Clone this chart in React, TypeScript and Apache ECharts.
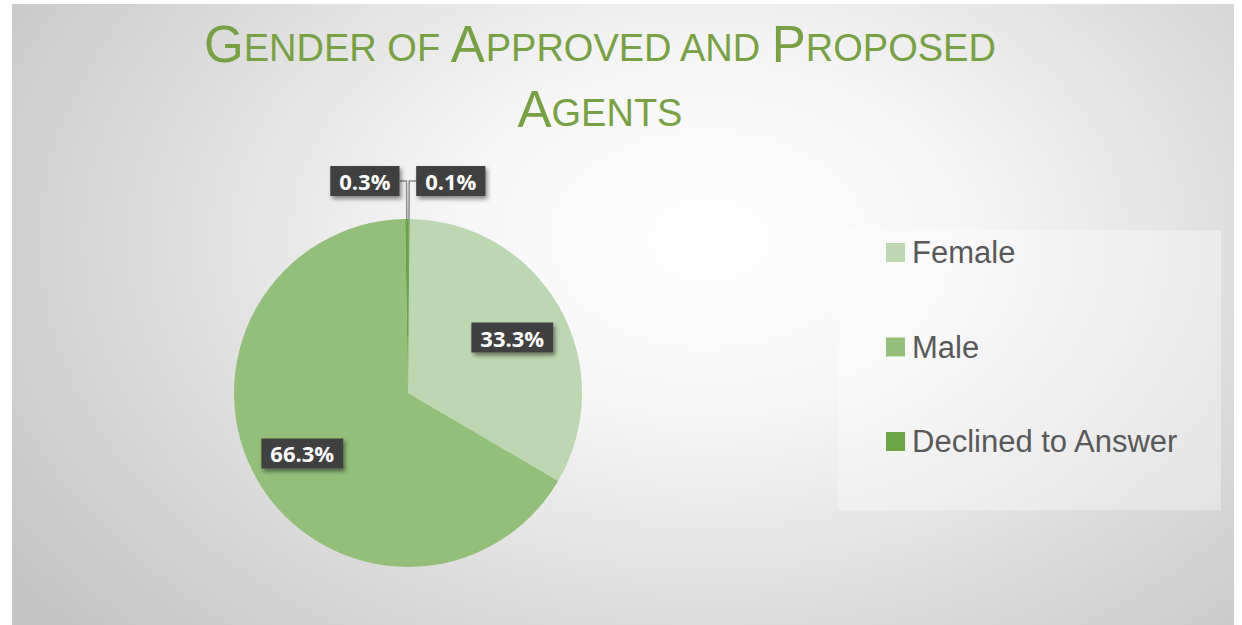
import React, { useEffect, useRef } from "react";
import * as echarts from "echarts";

const categories = ["Female", "Male", "Declined to Answer", "Other"];
const values = [33.3, 66.3, 0.3, 0.1];
const legendNames = ["Female", "Male", "Declined to Answer"];
const colors = ["#bdd7b3", "#93bf7a", "#6aa443", "#4f8a34"];
const titleLines = [
  [["G", "ENDER OF "], ["A", "PPROVED AND "], ["P", "ROPOSED"]],
  [["A", "GENTS"]],
];

export default function App() {
  const ref = useRef<HTMLDivElement>(null);
  useEffect(() => {
    if (!ref.current) return;
    const chart = echarts.init(ref.current, null, { renderer: "svg" });
    const titleText = titleLines
      .map((line) => line.map(([c, s]) => `{c|${c}}{s|${s}}`).join(""))
      .join("\n");
    const labelBox = {
      color: "#ffffff",
      fontWeight: "bold",
      fontSize: 22,
      lineHeight: 22,
      fontFamily: "Open Sans, Noto Sans, sans-serif",
      backgroundColor: "#404040",
      padding: [4, 9, 4, 9],
      shadowBlur: 4,
      shadowOffsetX: 2,
      shadowOffsetY: 3,
      shadowColor: "rgba(0,0,0,0.45)",
    };
    const insideOffsets: Record<string, number[]> = {
      Female: [26, -11],
      Male: [-28, 15],
    };
    const titleFont = "Liberation Sans, Arial, sans-serif";
    chart.setOption({
      animation: false,
      backgroundColor: "transparent",
      graphic: [
        {
          type: "rect",
          shape: { x: 826, y: 226, width: 383, height: 280 },
          style: { fill: "rgba(255,255,255,0.35)" },
          silent: true,
        },
        {
          type: "text",
          x: 588,
          y: 1,
          style: {
            text: titleText,
            align: "center",
            fill: "#77a144",
            rich: {
              c: {
                fontSize: 51,
                fontFamily: titleFont,
                color: "#77a144",
                lineHeight: 65,
                verticalAlign: "bottom",
              },
              s: {
                fontSize: 38,
                fontFamily: titleFont,
                color: "#77a144",
                lineHeight: 65,
                verticalAlign: "bottom",
                padding: [0, 0, 3, 0],
              },
            },
          },
        },
      ],
      legend: {
        data: legendNames,
        orient: "vertical",
        left: 869,
        top: 228,
        padding: 5,
        itemWidth: 19,
        itemHeight: 19,
        itemGap: 63.5,
        icon: "rect",
        textStyle: {
          fontSize: 31,
          lineHeight: 26,
          color: "#595959",
          fontFamily: "Liberation Sans, Arial, sans-serif",
          padding: [0, 0, 0, 2],
        },
      },
      series: [
        {
          type: "pie",
          center: [396, 389],
          radius: [0, 174],
          startAngle: 89.5,
          clockwise: true,
          avoidLabelOverlap: false,
          silent: true,
          data: categories.map((name, i) => {
            const inside = insideOffsets[name];
            return {
              name,
              value: values[i],
              itemStyle: { color: colors[i] },
              label: inside
                ? { position: "inside", offset: inside }
                : { position: "outside" },
              labelLine: { show: !inside },
            };
          }),
          label: {
            ...labelBox,
            formatter: (p: any) => p.value.toFixed(1) + "%",
            distanceToLabelLine: 0,
          },
          labelLine: {
            length: 38,
            length2: 7,
            smooth: false,
            lineStyle: { color: "#8c8c8c", width: 1.5 },
          },
        },
      ],
    });
    return () => chart.dispose();
  }, []);
  return (
    <div style={{ position: "fixed", left: 0, top: 0, width: 1242, height: 625, background: "#ffffff" }}>
      <div
        style={{
          position: "absolute",
          left: 12,
          top: 4,
          width: 1222,
          height: 621,
          background:
            "radial-gradient(ellipse 70% 95% at 57% 38%, #ffffff 0%, #f6f6f6 30%, #dcdcdc 65%, #c4c4c4 100%)",
        }}
      >
        <div ref={ref} style={{ width: 1222, height: 621 }} />
      </div>
    </div>
  );
}
